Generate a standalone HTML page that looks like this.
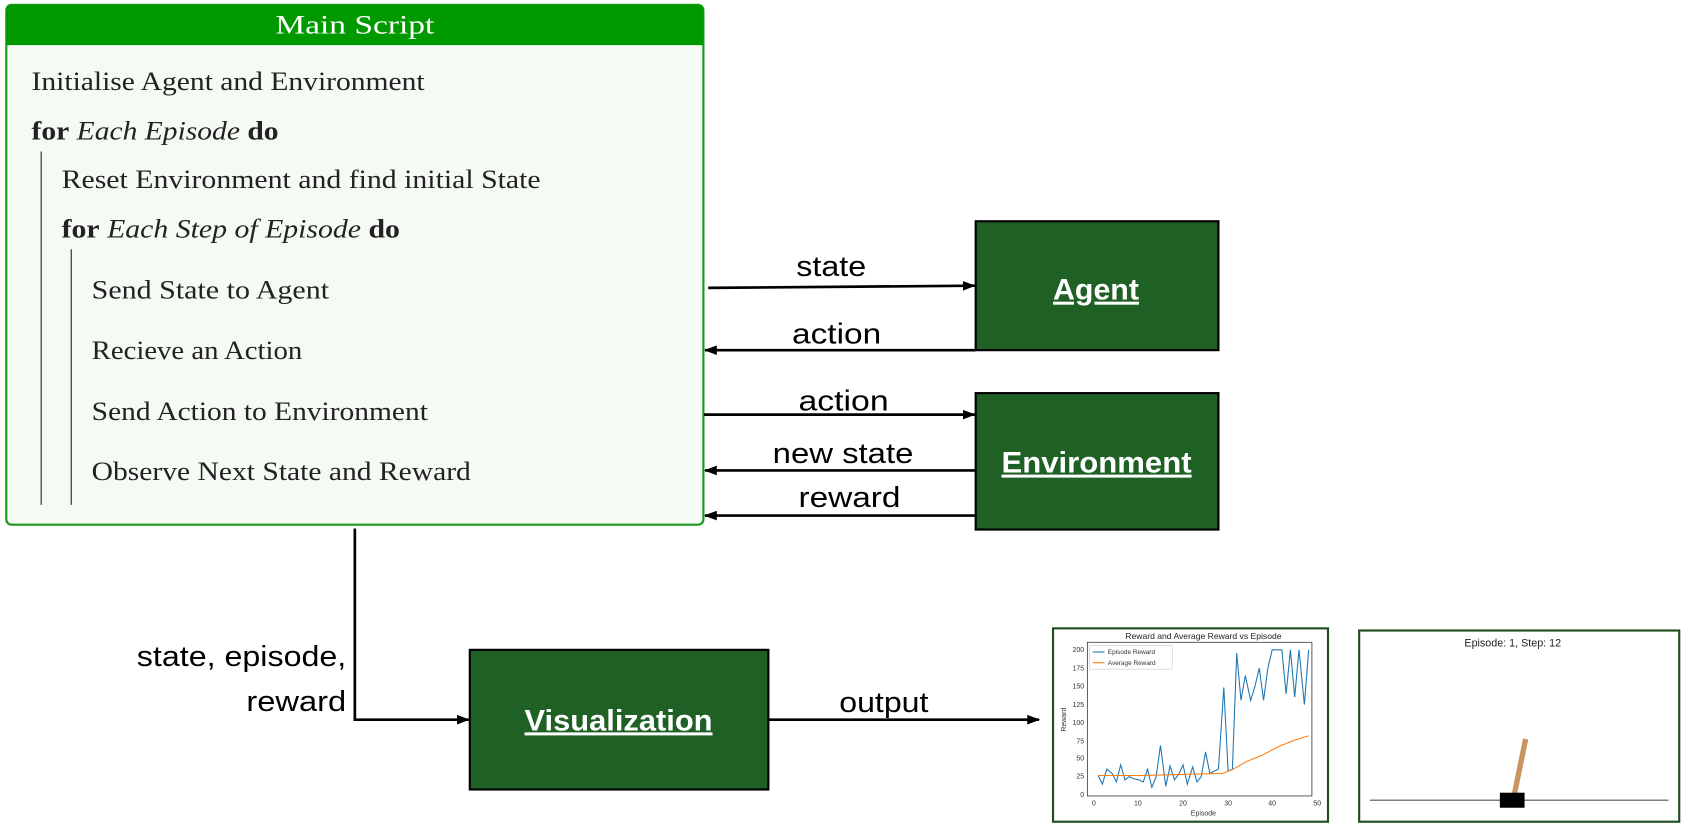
<!DOCTYPE html>
<html><head><meta charset="utf-8"><style>
html,body{margin:0;padding:0;background:#fff;width:1685px;height:826px;overflow:hidden}
svg{display:block}
.s{font-family:"Liberation Serif",serif;font-size:25px;fill:#222}
.c{font-family:"Liberation Sans",sans-serif;font-size:27px;fill:#000}
.b{font-family:"Liberation Sans",sans-serif;font-size:28px;font-weight:bold;fill:#fff;text-decoration:underline}
</style></head><body>
<svg width="1685" height="826" viewBox="0 0 1568 769" xmlns="http://www.w3.org/2000/svg">
<defs><marker id="a" markerWidth="12" markerHeight="12" refX="11" refY="6" orient="auto" markerUnits="userSpaceOnUse"><path d="M0,1.5 L12,6 L0,10.5 z" fill="#000"/></marker></defs>
<rect x="5.5" y="4.5" width="649" height="484" rx="5" fill="#f5faf4" stroke="#1a9a1a" stroke-width="2"/>
<path d="M5.5,42 V9.5 a5,5 0 0 1 5,-5 H649.5 a5,5 0 0 1 5,5 V42 z" fill="#009900"/>
<text x="256" y="31" textLength="148" lengthAdjust="spacingAndGlyphs" class="s" style="fill:#fff">Main Script</text>
<text x="29" y="84" textLength="366" lengthAdjust="spacingAndGlyphs" class="s">Initialise Agent and Environment</text>
<text x="29" y="130" textLength="230" lengthAdjust="spacingAndGlyphs" class="s"><tspan font-weight="bold">for</tspan> <tspan font-style="italic">Each Episode</tspan> <tspan font-weight="bold">do</tspan></text>
<line x1="38" y1="141" x2="38" y2="470" stroke="#444" stroke-width="1.2"/>
<text x="57" y="175" textLength="446" lengthAdjust="spacingAndGlyphs" class="s">Reset Environment and find initial State</text>
<text x="57" y="221" textLength="315" lengthAdjust="spacingAndGlyphs" class="s"><tspan font-weight="bold">for</tspan> <tspan font-style="italic">Each Step of Episode</tspan> <tspan font-weight="bold">do</tspan></text>
<line x1="66" y1="232" x2="66" y2="470" stroke="#444" stroke-width="1.2"/>
<text x="85" y="278" textLength="221" lengthAdjust="spacingAndGlyphs" class="s">Send State to Agent</text>
<text x="85" y="334" textLength="196" lengthAdjust="spacingAndGlyphs" class="s">Recieve an Action</text>
<text x="85" y="391" textLength="313" lengthAdjust="spacingAndGlyphs" class="s">Send Action to Environment</text>
<text x="85" y="447" textLength="353" lengthAdjust="spacingAndGlyphs" class="s">Observe Next State and Reward</text>
<rect x="908" y="206" width="226" height="120" fill="#1f6025" stroke="#000" stroke-width="2"/>
<text x="980" y="279" textLength="80" lengthAdjust="spacingAndGlyphs" class="b">Agent</text>
<rect x="908" y="366" width="226" height="127" fill="#1f6025" stroke="#000" stroke-width="2"/>
<text x="932" y="440" textLength="177" lengthAdjust="spacingAndGlyphs" class="b">Environment</text>
<rect x="437" y="605" width="278" height="130" fill="#1f6025" stroke="#000" stroke-width="2"/>
<text x="488" y="680" textLength="175" lengthAdjust="spacingAndGlyphs" class="b">Visualization</text>
<g stroke="#000" stroke-width="2.5" fill="none">
<line x1="659" y1="268" x2="907" y2="266" marker-end="url(#a)"/>
<line x1="908" y1="326" x2="656" y2="326" marker-end="url(#a)"/>
<line x1="655" y1="386" x2="907" y2="386" marker-end="url(#a)"/>
<line x1="908" y1="438" x2="656" y2="438" marker-end="url(#a)"/>
<line x1="908" y1="480" x2="656" y2="480" marker-end="url(#a)"/>
<polyline points="330,492 330,670 436,670" marker-end="url(#a)"/>
<line x1="715" y1="670" x2="967" y2="670" marker-end="url(#a)"/>
</g>
<text x="741" y="257" textLength="65" lengthAdjust="spacingAndGlyphs" class="c">state</text>
<text x="737" y="320" textLength="83" lengthAdjust="spacingAndGlyphs" class="c">action</text>
<text x="743" y="382" textLength="84" lengthAdjust="spacingAndGlyphs" class="c">action</text>
<text x="719" y="431" textLength="131" lengthAdjust="spacingAndGlyphs" class="c">new state</text>
<text x="743" y="472" textLength="95" lengthAdjust="spacingAndGlyphs" class="c">reward</text>
<text x="127" y="620" textLength="195" lengthAdjust="spacingAndGlyphs" class="c">state, episode,</text>
<text x="229" y="662" textLength="93" lengthAdjust="spacingAndGlyphs" class="c">reward</text>
<text x="781" y="663" textLength="83" lengthAdjust="spacingAndGlyphs" class="c">output</text>
<rect x="980" y="585" width="256" height="180" fill="#fff" stroke="#1f4d22" stroke-width="2"/>
<text x="1120" y="595" text-anchor="middle" font-family="Liberation Sans,sans-serif" font-size="8" fill="#222">Reward and Average Reward vs Episode</text>
<rect x="1012" y="598" width="209" height="143" fill="none" stroke="#444" stroke-width="0.8"/>
<g font-family="Liberation Sans,sans-serif" font-size="6.5" fill="#333" text-anchor="end">
<text x="1009" y="607">200</text><text x="1009" y="624">175</text><text x="1009" y="641">150</text><text x="1009" y="658">125</text><text x="1009" y="675">100</text><text x="1009" y="692">75</text><text x="1009" y="708">50</text><text x="1009" y="725">25</text><text x="1009" y="742">0</text>
</g>
<g font-family="Liberation Sans,sans-serif" font-size="6.5" fill="#333" text-anchor="middle">
<text x="1018" y="750">0</text><text x="1059" y="750">10</text><text x="1101" y="750">20</text><text x="1143" y="750">30</text><text x="1184" y="750">40</text><text x="1226" y="750">50</text>
<text x="1120" y="759">Episode</text>
<text transform="translate(992,670) rotate(-90)">Reward</text>
</g>
<polyline fill="none" stroke="#1f77b4" stroke-width="1" points="1022,722 1026,730 1030,716 1035,720 1039,728 1043,712 1047,726 1051,723 1055,725 1060,726 1064,728 1068,716 1072,733 1076,723 1080,694 1085,732 1089,713 1093,726 1097,721 1101,712 1105,730 1110,714 1114,728 1118,723 1122,700 1126,720 1130,718 1134,716 1139,640 1143,718 1147,716 1151,608 1155,652 1159,629 1164,652 1168,639 1172,622 1176,652 1180,622 1184,605 1189,605 1193,605 1197,646 1201,605 1205,649 1209,605 1214,656 1218,605"/>
<polyline fill="none" stroke="#ff7f0e" stroke-width="1" points="1022,722 1060,722 1100,721 1138,720 1148,716 1160,709 1175,703 1190,695 1205,689 1218,685"/>
<rect x="1014" y="601" width="77" height="22" fill="#fff" stroke="#ccc" stroke-width="0.6"/>
<line x1="1017" y1="607" x2="1028" y2="607" stroke="#1f77b4"/><line x1="1017" y1="617" x2="1028" y2="617" stroke="#ff7f0e"/>
<g font-family="Liberation Sans,sans-serif" font-size="6" fill="#333"><text x="1031" y="609">Episode Reward</text><text x="1031" y="619">Average Reward</text></g>
<rect x="1265" y="587" width="298" height="178" fill="#fff" stroke="#1f4d22" stroke-width="2"/>
<text x="1408" y="602" text-anchor="middle" font-family="Liberation Sans,sans-serif" font-size="10" fill="#222">Episode: 1, Step: 12</text>
<line x1="1275" y1="745" x2="1553" y2="745" stroke="#555" stroke-width="1"/>
<line x1="1409" y1="742" x2="1420" y2="688" stroke="#c89460" stroke-width="5"/>
<rect x="1396" y="738" width="23" height="14" fill="#000"/>
</svg>
</body></html>
